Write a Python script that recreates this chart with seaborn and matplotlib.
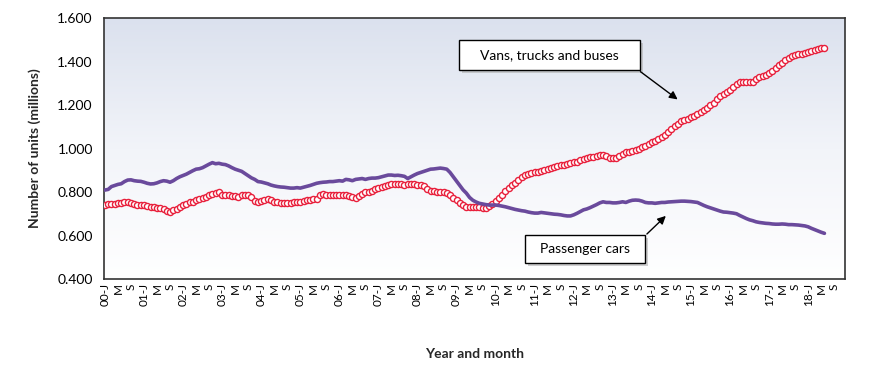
import numpy as np
import pandas as pd
import matplotlib
matplotlib.use("Agg")
import matplotlib.pyplot as plt
from matplotlib.patches import Rectangle
from matplotlib.colors import LinearSegmentedColormap
import seaborn as sns

# ---- data (millions of units, monthly from Jan 2000) ----
passenger_cars = [
    0.809, 0.812, 0.825, 0.830, 0.835, 0.838, 0.848, 0.855, 0.856, 0.852, 0.850, 0.849,  # 2000
    0.845, 0.840, 0.837, 0.838, 0.842, 0.848, 0.852, 0.850, 0.845, 0.852, 0.862, 0.870,  # 2001
    0.876, 0.882, 0.890, 0.898, 0.905, 0.907, 0.912, 0.920, 0.928, 0.935, 0.930, 0.932,  # 2002
    0.928, 0.926, 0.920, 0.912, 0.905, 0.900, 0.895, 0.885, 0.875, 0.865, 0.858, 0.848,  # 2003
    0.846, 0.842, 0.838, 0.832, 0.828, 0.825, 0.823, 0.822, 0.820, 0.818, 0.818, 0.820,  # 2004
    0.818, 0.822, 0.826, 0.830, 0.835, 0.840, 0.843, 0.845, 0.846, 0.848, 0.848, 0.850,  # 2005
    0.852, 0.850, 0.858, 0.856, 0.852, 0.858, 0.860, 0.862, 0.858, 0.862, 0.864, 0.864,  # 2006
    0.866, 0.870, 0.874, 0.878, 0.878, 0.876, 0.877, 0.875, 0.872, 0.862, 0.870, 0.878,  # 2007
    0.885, 0.890, 0.895, 0.900, 0.905, 0.906, 0.908, 0.910, 0.908, 0.905, 0.890, 0.870,  # 2008
    0.850, 0.830, 0.810, 0.795, 0.775, 0.762, 0.754, 0.748, 0.745, 0.742, 0.740, 0.740,  # 2009
    0.740, 0.738, 0.735, 0.732, 0.728, 0.724, 0.720, 0.717, 0.714, 0.712, 0.708, 0.705,  # 2010
    0.703, 0.703, 0.706, 0.704, 0.702, 0.700, 0.698, 0.697, 0.695, 0.692, 0.690, 0.690,  # 2011
    0.695, 0.702, 0.710, 0.718, 0.722, 0.728, 0.735, 0.742, 0.750, 0.755, 0.752, 0.752,  # 2012
    0.750, 0.750, 0.752, 0.755, 0.752, 0.758, 0.762, 0.763, 0.762, 0.758, 0.752, 0.750,  # 2013
    0.750, 0.748, 0.750, 0.752, 0.752, 0.754, 0.755, 0.756, 0.757, 0.758, 0.758, 0.757,  # 2014
    0.756, 0.754, 0.752, 0.745, 0.738, 0.732, 0.727, 0.722, 0.717, 0.712, 0.708, 0.707,  # 2015
    0.705, 0.703, 0.700, 0.692, 0.685, 0.678, 0.672, 0.668, 0.663, 0.660, 0.658, 0.656,  # 2016
    0.655, 0.653, 0.652, 0.652, 0.653, 0.652, 0.650, 0.650, 0.649, 0.648, 0.646, 0.644,  # 2017
    0.640, 0.633, 0.627, 0.621, 0.615, 0.610,                                            # 2018
]
vans_trucks_buses = [
    0.742, 0.744, 0.745, 0.747, 0.748, 0.750, 0.752, 0.755, 0.750, 0.746, 0.742, 0.740,  # 2000
    0.738, 0.735, 0.732, 0.730, 0.728, 0.725, 0.722, 0.712, 0.708, 0.716, 0.724, 0.731,  # 2001
    0.738, 0.745, 0.752, 0.756, 0.762, 0.768, 0.774, 0.778, 0.784, 0.790, 0.795, 0.798,  # 2002
    0.786, 0.785, 0.784, 0.780, 0.782, 0.778, 0.784, 0.786, 0.786, 0.776, 0.760, 0.756,  # 2003
    0.760, 0.764, 0.768, 0.762, 0.756, 0.752, 0.750, 0.748, 0.748, 0.750, 0.752, 0.754,  # 2004
    0.754, 0.758, 0.762, 0.765, 0.768, 0.770, 0.788, 0.790, 0.788, 0.786, 0.784, 0.786,  # 2005
    0.786, 0.788, 0.786, 0.782, 0.776, 0.772, 0.780, 0.790, 0.798, 0.800, 0.806, 0.812,  # 2006
    0.818, 0.824, 0.828, 0.832, 0.835, 0.837, 0.836, 0.835, 0.834, 0.836, 0.837, 0.836,  # 2007
    0.834, 0.830, 0.826, 0.816, 0.806, 0.804, 0.802, 0.800, 0.800, 0.795, 0.785, 0.772,  # 2008
    0.762, 0.750, 0.740, 0.733, 0.730, 0.730, 0.730, 0.729, 0.728, 0.727, 0.735, 0.745,  # 2009
    0.758, 0.772, 0.788, 0.803, 0.818, 0.830, 0.843, 0.856, 0.868, 0.876, 0.882, 0.886,  # 2010
    0.890, 0.894, 0.898, 0.902, 0.906, 0.911, 0.915, 0.918, 0.922, 0.926, 0.930, 0.933,  # 2011
    0.936, 0.940, 0.945, 0.950, 0.955, 0.960, 0.963, 0.966, 0.968, 0.968, 0.964, 0.958,  # 2012
    0.955, 0.958, 0.965, 0.975, 0.982, 0.986, 0.990, 0.995, 1.000, 1.006, 1.012, 1.020,  # 2013
    1.028, 1.034, 1.042, 1.052, 1.062, 1.075, 1.090, 1.102, 1.115, 1.125, 1.131, 1.137,  # 2014
    1.143, 1.150, 1.158, 1.168, 1.178, 1.188, 1.198, 1.210, 1.228, 1.240, 1.250, 1.260,  # 2015
    1.269, 1.282, 1.295, 1.305, 1.307, 1.306, 1.306, 1.308, 1.318, 1.329, 1.332, 1.338,  # 2016
    1.347, 1.358, 1.370, 1.382, 1.393, 1.405, 1.416, 1.425, 1.430, 1.434, 1.436, 1.439,  # 2017
    1.442, 1.447, 1.452, 1.456, 1.460, 1.463,                                            # 2018
]
years = list(range(2000, 2019))
month_letters = ["J", "M", "S"]          # tick every 4 months
y_ticks = [0.4, 0.6, 0.8, 1.0, 1.2, 1.4, 1.6]

# ---- build frame ----
n = len(passenger_cars)
df = pd.DataFrame({
    "month": np.arange(n),
    "Passenger cars": passenger_cars,
    "Vans, trucks and buses": vans_trucks_buses,
})

tick_pos, tick_lab = [], []
for i, yr in enumerate(years):
    for j, m in enumerate(month_letters):
        tick_pos.append(i * 12 + j * 4)
        tick_lab.append(f"{yr % 100:02d}-J" if m == "J" else m)

# ---- style ----
sns.set_theme(style="white")
plt.rcParams["font.family"] = ["Lato", "DejaVu Sans"]

fig = plt.figure(figsize=(8.7, 3.76), dpi=100)
ax = fig.add_axes([0.1195, 0.258, 0.8517, 0.694])

purple = "#6a4a9c"
red = "#e8203c"

# gradient background
grad = np.linspace(0, 1, 256).reshape(-1, 1)
cmap = LinearSegmentedColormap.from_list("bg", ["#ffffff", "#f2f4f9", "#dbe1ee"])
ax.imshow(grad, extent=[-0.3, 227.3, 0.4, 1.6], origin="lower", aspect="auto",
          cmap=cmap, zorder=0)

sns.lineplot(data=df, x="month", y="Vans, trucks and buses", ax=ax, color=red,
             lw=1.0, marker="o", markersize=4.4, markerfacecolor="white",
             markeredgecolor=red, markeredgewidth=1.0, zorder=3)
sns.lineplot(data=df, x="month", y="Passenger cars", ax=ax, color=purple,
             lw=2.6, zorder=4)

ax.set_xlim(-0.3, 227.3)
ax.set_ylim(0.4, 1.6)
ax.set_yticks(y_ticks)
ax.set_yticklabels([f"{v:.3f}" for v in y_ticks], fontsize=10)
ax.set_xticks(tick_pos)
ax.set_xticklabels(tick_lab, rotation=90, fontsize=8.5, va="top", ha="center")
ax.tick_params(axis="both", length=0, pad=3, colors="black")
ax.tick_params(axis="y", pad=8)

for s in ax.spines.values():
    s.set_visible(True)
    s.set_color("#333333")
    s.set_linewidth(1.2)

ax.set_xlabel("Year and month", fontsize=10, fontweight="bold", labelpad=30)
ax.set_ylabel("Number of units (millions)", fontsize=10, fontweight="bold", labelpad=12)

# annotation boxes
def box(x0, y0, x1, y1, text):
    sh = Rectangle((x0 + 0.004, y0 - 0.01), x1 - x0, y1 - y0, transform=ax.transAxes,
                   facecolor="#b0b0b0", edgecolor="none", zorder=5, alpha=0.6)
    r = Rectangle((x0, y0), x1 - x0, y1 - y0, transform=ax.transAxes,
                  facecolor="white", edgecolor="black", lw=1.0, zorder=6)
    ax.add_patch(sh)
    ax.add_patch(r)
    ax.text((x0 + x1) / 2, (y0 + y1) / 2, text, transform=ax.transAxes,
            ha="center", va="center", fontsize=10, zorder=7, color="black")

box(0.479, 0.801, 0.723, 0.916, "Vans, trucks and buses")
box(0.568, 0.061, 0.730, 0.169, "Passenger cars")

ax.annotate("", xy=(176.6, 1.218), xytext=(0.721, 0.801), textcoords="axes fraction",
            arrowprops=dict(arrowstyle="-|>", color="black", lw=1.0, mutation_scale=12),
            zorder=8)
ax.annotate("", xy=(172.9, 0.699), xytext=(0.730, 0.165), textcoords="axes fraction",
            arrowprops=dict(arrowstyle="-|>", color="black", lw=1.0, mutation_scale=12),
            zorder=8)

leg = ax.get_legend()
if leg is not None:
    leg.remove()
fig.savefig("out.png", dpi=100, facecolor="white")
